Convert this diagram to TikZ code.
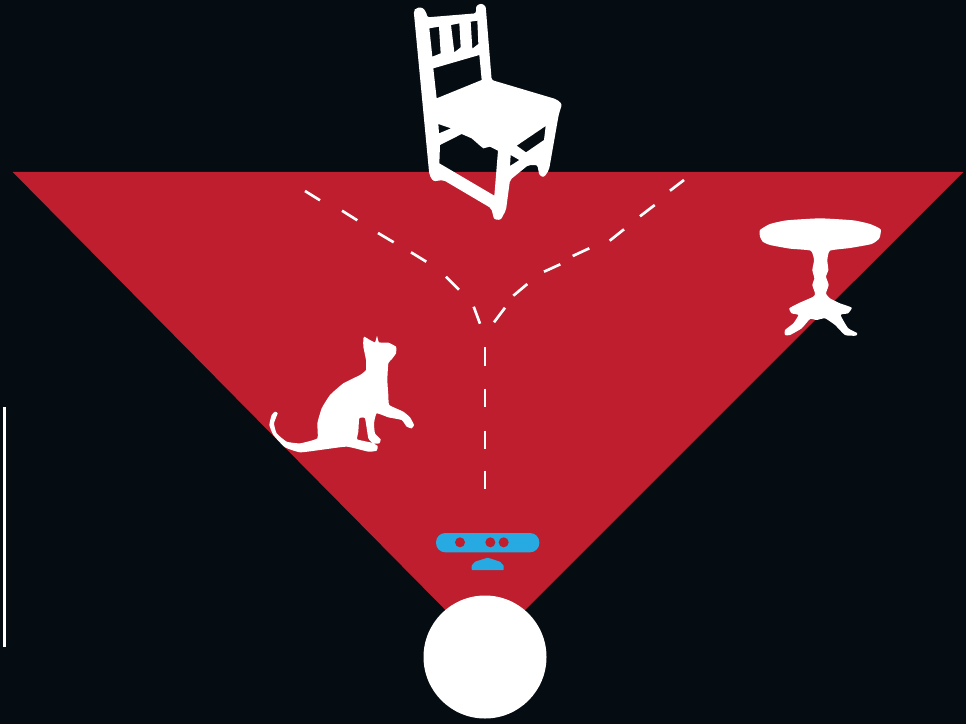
\documentclass[tikz,border=0pt]{standalone}
\definecolor{bgdark}{HTML}{050C12}
\definecolor{conered}{HTML}{BE1E2D}
\definecolor{sensorblue}{HTML}{27AAE1}
\tikzset{
  dashseg/.style={draw=white,line width=2pt},
  silhouette/.style={fill=white,even odd rule,line join=round},
  zoomunits/.style={x=0.25pt,y=-0.25pt},
}
\begin{document}
\begin{tikzpicture}[x=0.75pt,y=-0.75pt]
\useasboundingbox (0,0) rectangle (966,724);
\fill[bgdark] (0,0) rectangle (966,724);
% cone
\fill[conered] (12.5,171.8) -- (963.5,171.8) -- (485,650) -- cycle;
% head
\fill[white] (485,657) circle[radius=61.5];
% scale bar
\draw[white,line width=2.2pt] (4.5,407) -- (4.5,647);
% rays
\foreach \a/\b/\c/\d in {305/191/320/200.3,342/210.7/357.3/220.3,378/233/393.7/242.3,411/252.3/426.3/261.7,446/276.7/459/289.7,473.7/306.7/480/323.7,
684/180/670/190.7,654.7/205/640/216.3,624/229.3/609.7/240.7,589.3/248.3/572.7/256,560.3/264.3/544/271.7,527.3/284/513.3/295.7,505/307.7/494/322.3,
485/347.3/485/366,485/388.7/485/407.3,485/430.7/485/449.3,485/470.7/485/489.3}
  \draw[dashseg] (\a,\b) -- (\c,\d);
% chair
\begin{scope}[shift={(400,0)},zoomunits]
\path[silhouette,rounded corners=1.6pt]
 (41,32) -- (48,24) -- (66,22) -- (78,34) -- (82,52) -- (228,40) -- (228,18) -- (243,10) -- (257,18) -- (275,240) -- (470,298) -- (486,312) -- (476,345) -- (447,510) -- (432,532) -- (418,526) -- (412,495) -- (385,495) -- (330,540) -- (318,630) -- (302,660) -- (282,658) -- (274,625) -- (130,540) -- (100,544) -- (88,525) -- cycle
 [sharp corners]
 (88,85) -- (117,80) -- (122,160) -- (97,170) -- cycle
 (153,75) -- (178,70) -- (182,142) -- (163,157) -- cycle
 (212,65) -- (232,62) -- (235,132) -- (217,146) -- cycle
 (100,205) -- (238,165) -- (245,240) -- (110,295) -- cycle
 (115,372) -- (153,385) -- (117,400) -- cycle
 (120,435) -- (185,402) -- (215,415) -- (240,437) -- (250,445) -- (270,440) -- (294,452) -- (283,587) -- (118,490) -- cycle
 (332,465) -- (358,480) -- (330,498) -- cycle
 (437,378) -- (432,420) -- (378,457) -- (350,437) -- cycle;
\end{scope}
% table
\begin{scope}[shift={(750,210)},zoomunits]
\fill[white] plot[smooth cycle,tension=0.3] coordinates {
(30,60) (60,42) (110,31) (210,25) (310,31) (360,42) (392,58) (388,85) (365,102) (300,114) (240,122)
(232,150) (235,180) (228,200) (236,225) (228,250) (240,265) (270,280) (305,293) (294,310) (272,315) (294,354) (321,369) (318,377) (285,375) (255,345) (225,325) (200,330) (180,327) (155,355) (120,375) (105,375) (105,360) (130,340) (145,315) (125,310) (118,295) (145,280) (190,260) (195,250) (187,225) (193,205) (187,180) (192,150) (182,122) (120,116) (60,105) (38,95) (30,80)};
\end{scope}
% cat
\begin{scope}[shift={(260,330)},zoomunits]
\fill[white] plot[smooth cycle,tension=0.25] coordinates {
(313,20) (330,30) (345,37) (351,18) (357,37) (385,38) (408,50) (408,70) (395,88) (385,100) (382,150) (385,195) (388,225) (430,245) (450,262) (462,285) (455,295) (440,290) (425,270) (385,262) (350,250) (342,280) (345,310) (362,328) (358,340) (340,340) (325,325) (315,265) (298,265) (295,305) (292,328) (335,338) (353,348) (350,362) (325,365) (260,350) (180,360) (120,367) (75,352) (40,315) (28,285) (35,255) (45,245) (53,250) (42,280) (50,310) (80,335) (120,340) (172,325) (172,280) (185,235) (210,195) (250,160) (300,135) (318,120) (318,90) (310,50) (310,25)};
\end{scope}
% sensor
\begin{scope}[shift={(425,525)},zoomunits]
\fill[sensorblue,rounded corners=7pt] (33,24) rectangle (343,82);
\fill[conered] (105,52) circle[radius=15] (196,52) circle[radius=15] (236,52) circle[radius=15];
\fill[sensorblue,rounded corners=0.5pt] (140,135) -- (140,122) -- (150,110) -- (188,98) -- (225,110) -- (236,122) -- (236,135) -- cycle;
\end{scope}
\end{tikzpicture}
\end{document}
